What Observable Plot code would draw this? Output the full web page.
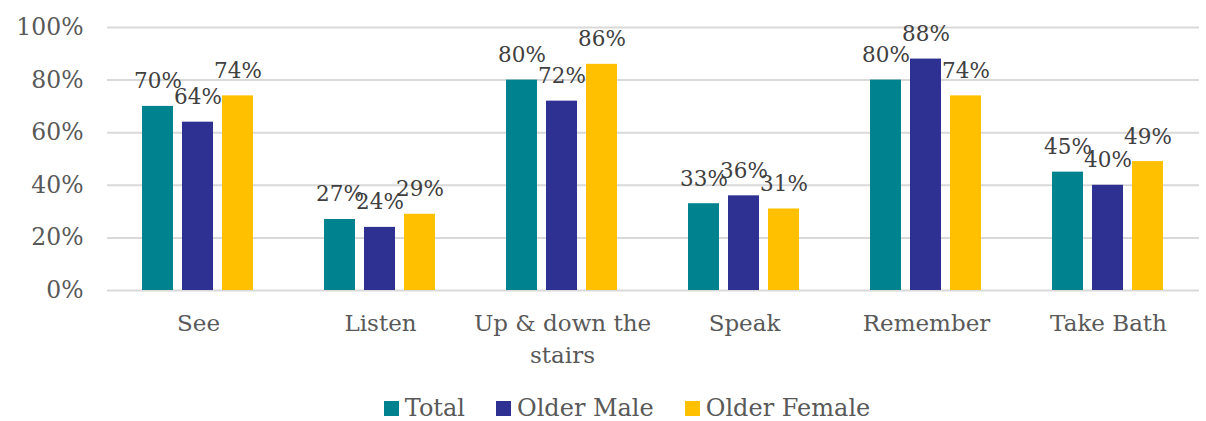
<!DOCTYPE html>
<html>
<head>
<meta charset="utf-8">
<script src="https://cdn.jsdelivr.net/npm/d3@7"></script>
<script src="https://cdn.jsdelivr.net/npm/@observablehq/plot@0.6"></script>
<style>
  body { margin: 0; background: #fff; }
  #wrap { position: relative; width: 1206px; height: 421px; overflow: hidden; font-family: "DejaVu Serif", serif; }
  #legend { position: absolute; left: 24px; top: 397px; width: 1206px; display: flex; justify-content: center; align-items: center; font-size: 24px; color: #595959; line-height: 23px; }
  .item { display: flex; align-items: center; margin: 0 15.5px; }
  .sw { width: 15px; height: 15px; margin-right: 6px; }
</style>
</head>
<body>
<div id="wrap"><div id="chart"></div><div id="legend"></div></div>
<script>
const categories = ["See", "Listen", "Up & down the stairs", "Speak", "Remember", "Take Bath"];
const categoryLabels = ["See", "Listen", "Up & down the\nstairs", "Speak", "Remember", "Take Bath"];
const series = ["Total", "Older Male", "Older Female"];
const colors = ["#00838F", "#2E3192", "#FFC000"];
const total = [70, 27, 80, 33, 80, 45];
const olderMale = [64, 24, 72, 36, 88, 40];
const olderFemale = [74, 29, 86, 31, 74, 49];
const yTicks = [0, 20, 40, 60, 80, 100];

const valuesBySeries = [total, olderMale, olderFemale];
const data = [];
categories.forEach((c, i) => {
  series.forEach((s, j) => data.push({category: c, series: s, value: valuesBySeries[j][i]}));
});
const labelOf = new Map(categories.map((c, i) => [c, categoryLabels[i]]));

const chart = Plot.plot({
  width: 1206,
  height: 388,
  marginLeft: 105,
  marginRight: 6,
  marginTop: 27,
  marginBottom: 98,
  style: {fontFamily: "DejaVu Serif, serif", background: "#fff"},
  fx: {domain: categories, padding: 0, label: null},
  x: {domain: series, paddingInner: 0.22, paddingOuter: 0.835, axis: null},
  y: {domain: [0, 100], label: null},
  color: {domain: series, range: colors},
  marks: [
    Plot.gridY(yTicks, {stroke: "#d9d9d9", strokeOpacity: 1, strokeWidth: 2}),
    Plot.axisY(yTicks, {tickSize: 0, tickPadding: 24, fontSize: 23.5, fill: "#595959", tickFormat: d => d + "%", label: null}),
    Plot.axisFx({anchor: "bottom", tickSize: 0, tickPadding: 18, fontSize: 23, fill: "#595959", lineHeight: 1.38, lineAnchor: "top", tickFormat: d => labelOf.get(d), label: null}),
    Plot.barY(data, {fx: "category", x: "series", y: "value", fill: "series"}),
    Plot.text(data, {fx: "category", x: "series", y: "value", text: d => d.value + "%", dy: -25, fontSize: 21.5, fill: "#404040", lineAnchor: "middle"})
  ]
});
document.getElementById("chart").appendChild(chart);

const legend = document.getElementById("legend");
series.forEach((s, i) => {
  const item = document.createElement("div");
  item.className = "item";
  const sw = document.createElement("span");
  sw.className = "sw";
  sw.style.background = colors[i];
  const t = document.createElement("span");
  t.textContent = s;
  item.appendChild(sw);
  item.appendChild(t);
  legend.appendChild(item);
});
</script>
</body>
</html>
